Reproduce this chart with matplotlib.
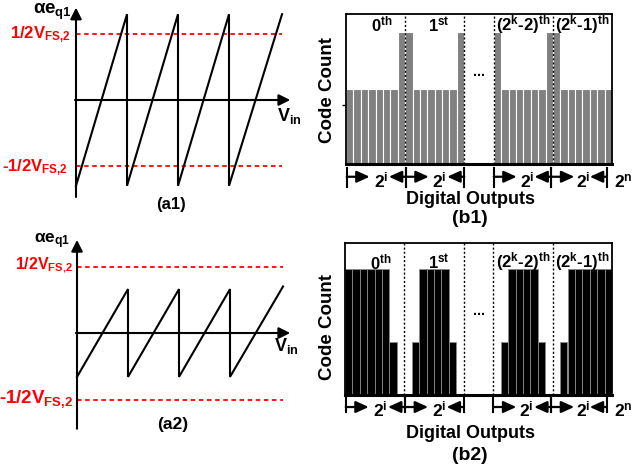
import numpy as np
import matplotlib.pyplot as plt
from matplotlib.transforms import Affine2D

plt.rcParams['font.family'] = ['Liberation Sans', 'DejaVu Sans']
plt.rcParams['font.weight'] = 'bold'
plt.rcParams['mathtext.fontset'] = 'custom'
plt.rcParams['mathtext.rm'] = 'Liberation Sans:bold'
plt.rcParams['mathtext.it'] = 'Liberation Sans:bold'
plt.rcParams['mathtext.bf'] = 'Liberation Sans:bold'

W, H = 634, 468

# ---- data ----
# (a1)/(a2): scaled first-stage quantization error vs Vin (one ramp per period)
saw_x = [0, 1, 1, 2, 2, 3, 3, 4.04]
saw_a1 = [-0.65, 0.65, -0.65, 0.65, -0.65, 0.65, -0.65, 0.65]
saw_a2 = [-0.33, 0.33, -0.33, 0.33, -0.33, 0.33, -0.33, 0.35]
fs_half = 0.5  # +-1/2 V_FS,2

# (b1)/(b2): code count histograms, 8 codes per sub-range
group_labels = [r'$0^{th}$', r'$1^{st}$', r'$(2^{k}\text{-}2)^{th}$',
                r'$(2^{k}\text{-}1)^{th}$']
b1_counts = [
    [0.5, 0.5, 0.5, 0.5, 0.5, 0.5, 0.5, 0.88],
    [0.88, 0.5, 0.5, 0.5, 0.5, 0.5, 0.5, 0.88],
    [0.88, 0.5, 0.5, 0.5, 0.5, 0.5, 0.5, 0.88],
    [0.88, 0.5, 0.5, 0.5, 0.5, 0.5, 0.5, 0.5],
]
b2_counts = [
    [0.83, 0.83, 0.83, 0.83, 0.83, 0.83, 0.35, 0],
    [0, 0.35, 0.83, 0.83, 0.83, 0.83, 0.35, 0],
    [0, 0.35, 0.83, 0.83, 0.83, 0.83, 0.35, 0],
    [0, 0.35, 0.83, 0.83, 0.83, 0.83, 0.83, 0.83],
]
codes_per_group = 8
gap_codes = 4  # the "..." region between 1st and (2^k-2)th

fig = plt.figure(figsize=(W / 100, H / 100), dpi=100)
pxT = Affine2D().scale(1, -1).translate(0, H)  # figure pixel coords, y down


def px_axes(x0, y0, x1, y1):
    return fig.add_axes([x0 / W, 1 - y1 / H, (x1 - x0) / W, (y1 - y0) / H])


def ptext(x, y, s, **kw):
    return fig.text(x, y, s, transform=pxT, **kw)


# ---- (a) panels ----
def saw_panel(rect, ox, oy, sx, sy, ys, vtop, vbot, htip):
    x0, y0, x1, y1 = rect
    ax = px_axes(*rect)
    ax.set_xlim((x0 - ox) / sx, (x1 - ox) / sx)
    ax.set_ylim((oy - y1) / sy, (oy - y0) / sy)
    ax.axis('off')
    for lvl in (fs_half, -fs_half):
        ax.plot([0, saw_x[-1]], [lvl, lvl], color='red', lw=1.3,
                ls=(0, (2.5, 2)))
    ax.plot(saw_x, ys, color='black', lw=1.5, solid_joinstyle='miter')
    arr = dict(arrowstyle='-|>', color='black', lw=1.5, mutation_scale=17,
               shrinkA=0, shrinkB=0)
    ax.annotate('', xy=(0, vtop), xytext=(0, vbot), arrowprops=arr)
    ax.annotate('', xy=(htip, 0), xytext=(-0.02, 0), arrowprops=arr)
    return ax


ax_a1 = saw_panel((0, 0, 300, 222), 76, 100, 51, 132, saw_a1, 0.70, -0.735, 4.2)
ax_a2 = saw_panel((0, 226, 300, 468), 77, 333, 51, 133, saw_a2, 0.70, -0.72, 4.18)

ptext(52, 1.5, r'$\alpha e_{q1}$', fontsize=13.5, ha='center', va='top')
ptext(70, 35, r'$1/2V_{FS{,}2}$', fontsize=12, color='red', ha='right', va='center')
ptext(68, 168, r'$\text{-}1/2V_{FS{,}2}$', fontsize=12, color='red', ha='right', va='center')
t = ptext(277, 116, r'$V_{in}$', fontsize=13, ha='left', va='center')
t.set_clip_box(ax_a1.bbox)
ptext(171, 204, '(a1)', fontsize=12, ha='center', va='center')

ptext(52, 241, r'$\alpha e_{q1}$', fontsize=12.5, ha='center', va='center')
ptext(73, 265, r'$1/2V_{FS{,}2}$', fontsize=11.5, color='red', ha='right', va='center')
ptext(73, 399, r'$\text{-}1/2V_{FS{,}2}$', fontsize=13.5, color='red', ha='right', va='center')
t = ptext(274, 346, r'$V_{in}$', fontsize=13, ha='left', va='center')
t.set_clip_box(ax_a2.bbox)
ptext(173, 425, '(a2)', fontsize=12.5, ha='center', va='center')

# ---- (b) panels ----
starts = [0, codes_per_group, 2 * codes_per_group + gap_codes,
          3 * codes_per_group + gap_codes]
x_end = starts[-1] + codes_per_group
dim_spans = [(0.1, 8.1), (8.1, 16), (20, 27.8), (27.8, 35.3)]


def hist_panel(rect, counts, face, edge, elw, lab_y, dots_y,
               y_arr, yt0, yt1, y_txt):
    ax = px_axes(*rect)
    for s, c in zip(starts, counts):
        xs = s + np.arange(len(c)) + 0.5
        ax.bar(xs, c, width=1, color=face, edgecolor=edge, linewidth=elw)
    ax.set_xlim(0, x_end)
    ax.set_ylim(0, 1)
    ax.set_xticks([])
    ax.set_yticks([])
    for sp in ('top', 'left', 'right'):
        ax.spines[sp].set_linewidth(1.3)
    ax.spines['bottom'].set_linewidth(2.2)
    for xv in starts[1:] + [starts[1] + codes_per_group]:
        ax.axvline(xv, color='black', lw=1, ls=(0, (1.5, 1.5)))
    for lx, lab in zip([4.8, 12.6, 24, 32], group_labels):
        ax.text(lx, lab_y, lab, fontsize=12, ha='center', va='center')
    ax.text(18, dots_y, '...', fontsize=10, ha='center', va='center')
    arr = dict(arrowstyle='-|>,head_length=0.55,head_width=0.25',
               color='black', lw=1.6, mutation_scale=14,
               shrinkA=0, shrinkB=0)
    for L, R in dim_spans:
        for e in (L, R):
            ax.plot([e, e], [yt0, yt1], color='black', lw=1.5, clip_on=False)
        ax.annotate('', xy=(L + 3.1, y_arr), xytext=(L, y_arr),
                    arrowprops=arr, annotation_clip=False)
        ax.annotate('', xy=(R - 2.3, y_arr), xytext=(R, y_arr),
                    arrowprops=arr, annotation_clip=False)
        ax.text((L + R) / 2 + 0.6, y_txt, r'$2^{i}$', fontsize=12.5,
                ha='center', va='baseline', clip_on=False)
    ax.text(37.5, y_txt, r'$2^{n}$', fontsize=12.5, ha='center',
            va='baseline', clip_on=False)
    return ax


ax_b1 = hist_panel((346, 14, 612, 164), b1_counts, '#808080', 'white', 0.8,
                   0.927, 0.61, -0.085, -0.027, -0.153, -0.158)
ax_b1.set_yticks([0.39])
ax_b1.set_yticklabels([])
ax_b1.tick_params(axis='y', length=3, width=1)

ax_b2 = hist_panel((345, 243, 612, 395), b2_counts, 'black', '#8a8a8a', 0.6,
                   0.875, 0.55, -0.079, -0.02, -0.11, -0.138)

ptext(327, 90, 'Code Count', fontsize=13.5, rotation=90, ha='center', va='center')
ptext(470, 204, 'Digital Outputs', fontsize=13, ha='center', va='baseline')
ptext(470, 223, '(b1)', fontsize=14, ha='center', va='baseline')
ptext(327, 327, 'Code Count', fontsize=13.5, rotation=90, ha='center', va='center')
ptext(470, 438, 'Digital Outputs', fontsize=13, ha='center', va='baseline')
ptext(470, 460, '(b2)', fontsize=14, ha='center', va='baseline')

fig.savefig('out.png', dpi=100)
